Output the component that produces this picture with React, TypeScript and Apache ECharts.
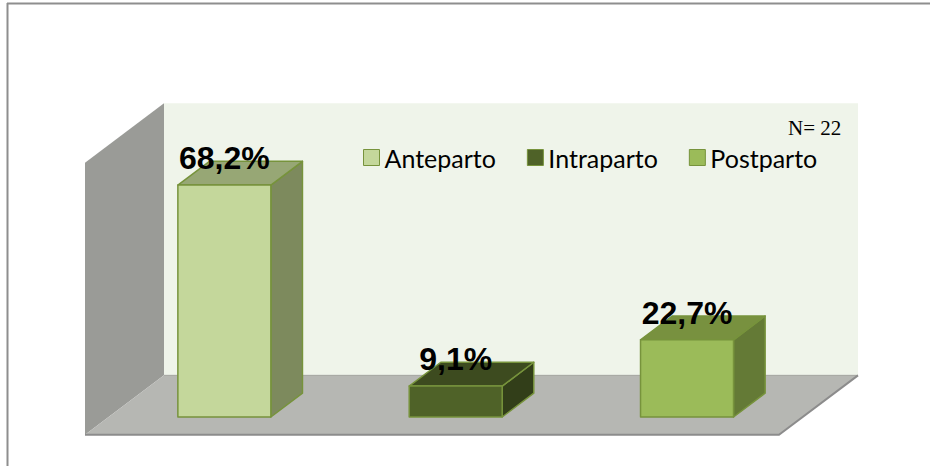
import React, { useEffect, useRef } from "react";
import * as echarts from "echarts";

const categories = ["Anteparto", "Intraparto", "Postparto"];
const values = [68.2, 9.1, 22.7];
const valueLabels = ["68,2%", "9,1%", "22,7%"];
const frontColors = ["#C4D79B", "#4F6228", "#9BBB59"];
const topColors = ["#97A775", "#3D4B1F", "#78913F"];
const sideColors = ["#7D8A5D", "#323E19", "#647A36"];
const yMin = 0;
const yMax = 80;
const sampleNote = "N= 22";

// depth vector of the 3D floor (pixels) and fractions of depth
const DX = 79;
const DY = -59.5;
const FRONT_FRAC = 0.3; // bar front plane position inside the floor depth
const BAR_DEPTH = 0.4;
const BAR_WIDTH_RATIO = 0.402;

export default function App() {
  const ref = useRef<HTMLDivElement>(null);

  useEffect(() => {
    if (!ref.current) return;
    const chart = echarts.init(ref.current, null, { renderer: "svg" });

    const wallsSeries: any = {
      type: "custom",
      name: "walls",
      silent: true,
      clip: false,
      z: 1,
      data: [[0, 0]],
      renderItem: (params: any, api: any) => {
        const cs = params.coordSys;
        const bx0 = cs.x;
        const bx1 = cs.x + cs.width;
        const y0 = api.coord([0, yMin])[1];
        const yT = api.coord([0, yMax])[1];
        const fdx = -FRONT_FRAC * DX;
        const fdy = -FRONT_FRAC * DY;
        const bdx = (1 - FRONT_FRAC) * DX;
        const bdy = (1 - FRONT_FRAC) * DY;
        return {
          type: "group",
          children: [
            {
              type: "rect",
              shape: { x: bx0 + bdx, y: yT + bdy, width: bx1 - bx0, height: y0 - yT },
              style: { fill: "#EFF4EA" },
            },
            {
              type: "polygon",
              shape: {
                points: [
                  [bx0 + fdx, yT + fdy],
                  [bx0 + bdx, yT + bdy],
                  [bx0 + bdx, y0 + bdy],
                  [bx0 + fdx, y0 + fdy],
                ],
              },
              style: { fill: "#9A9B97" },
            },
            {
              type: "polygon",
              shape: {
                points: [
                  [bx0 + fdx, y0 + fdy],
                  [bx1 + fdx, y0 + fdy],
                  [bx1 + bdx, y0 + bdy],
                  [bx0 + bdx, y0 + bdy],
                ],
              },
              style: { fill: "#B6B7B3" },
            },
            {
              type: "polyline",
              shape: {
                points: [
                  [bx0 + bdx, y0 + bdy],
                  [bx1 + bdx, y0 + bdy],
                ],
              },
              style: { stroke: "#A3A4A0", lineWidth: 1, fill: null },
            },
            {
              type: "polyline",
              shape: {
                points: [
                  [bx0 + fdx, y0 + fdy],
                  [bx1 + fdx, y0 + fdy],
                  [bx1 + bdx, y0 + bdy],
                ],
              },
              style: { stroke: "#8C8C8C", lineWidth: 2, fill: null },
            },
          ],
        };
      },
    };

    const barSeries = categories.map((name, i) => ({
      type: "custom",
      name,
      clip: false,
      z: 2,
      itemStyle: { color: frontColors[i], borderColor: "#77933C" },
      data: [[name, values[i]]],
      renderItem: (params: any, api: any) => {
        const idx = api.value(0);
        const v = api.value(1);
        const base = api.coord([idx, 0]);
        const top = api.coord([idx, v]);
        const bw = api.size([1, 0])[0] * BAR_WIDTH_RATIO;
        const x0 = base[0] - bw / 2;
        const x1 = base[0] + bw / 2;
        const yb = base[1];
        const yt = top[1];
        const dx = DX * BAR_DEPTH;
        const dy = DY * BAR_DEPTH;
        const stroke = { stroke: "#77933C", lineWidth: 1.5, lineJoin: "round" };
        return {
          type: "group",
          children: [
            {
              type: "polygon",
              shape: { points: [[x1, yt], [x1 + dx, yt + dy], [x1 + dx, yb + dy], [x1, yb]] },
              style: { fill: sideColors[i], ...stroke },
            },
            {
              type: "polygon",
              shape: { points: [[x0, yt], [x0 + dx, yt + dy], [x1 + dx, yt + dy], [x1, yt]] },
              style: { fill: topColors[i], ...stroke },
            },
            {
              type: "polygon",
              shape: { points: [[x0, yt], [x1, yt], [x1, yb], [x0, yb]] },
              style: { fill: frontColors[i], ...stroke },
            },
            {
              type: "text",
              style: {
                text: valueLabels[i],
                x: base[0],
                y: yt - 11,
                fill: "#000000",
                font: 'bold 32px "Liberation Sans", Arial, sans-serif',
                align: "center",
                verticalAlign: "bottom",
              },
            },
          ],
        };
      },
    }));

    chart.setOption({
      animation: false,
      grid: { left: 108.7, top: 145, width: 694, height: 272, containLabel: false },
      xAxis: {
        type: "category",
        data: categories,
        show: false,
        boundaryGap: true,
      },
      yAxis: { type: "value", min: yMin, max: yMax, show: false },
      legend: {
        left: 363,
        top: 145,
        padding: 0,
        itemWidth: 16,
        itemHeight: 16,
        itemGap: 31,
        selectedMode: false,
        textStyle: { fontFamily: "Lato", fontSize: 25, color: "#000000" },
        data: categories.map((name, i) => ({
          name,
          icon: "rect",
          itemStyle: { color: frontColors[i], borderColor: "#77933C", borderWidth: 1 },
        })),
      },
      graphic: [
        {
          type: "line",
          z: 100,
          shape: { x1: 7, y1: 3.5, x2: 930, y2: 3.5 },
          style: { stroke: "#8E8E8E", lineWidth: 2 },
        },
        {
          type: "line",
          z: 100,
          shape: { x1: 7.5, y1: 3, x2: 7.5, y2: 466 },
          style: { stroke: "#8E8E8E", lineWidth: 2 },
        },
        {
          type: "text",
          z: 100,
          left: 788,
          top: 117,
          style: {
            text: sampleNote,
            font: '21px "Liberation Serif", "Times New Roman", serif',
            fill: "#000000",
          },
        },
      ],
      series: [wallsSeries, ...barSeries],
    });

    return () => chart.dispose();
  }, []);

  return (
    <div
      ref={ref}
      style={{ position: "absolute", left: 0, top: 0, width: 930, height: 466, background: "#ffffff" }}
    />
  );
}
